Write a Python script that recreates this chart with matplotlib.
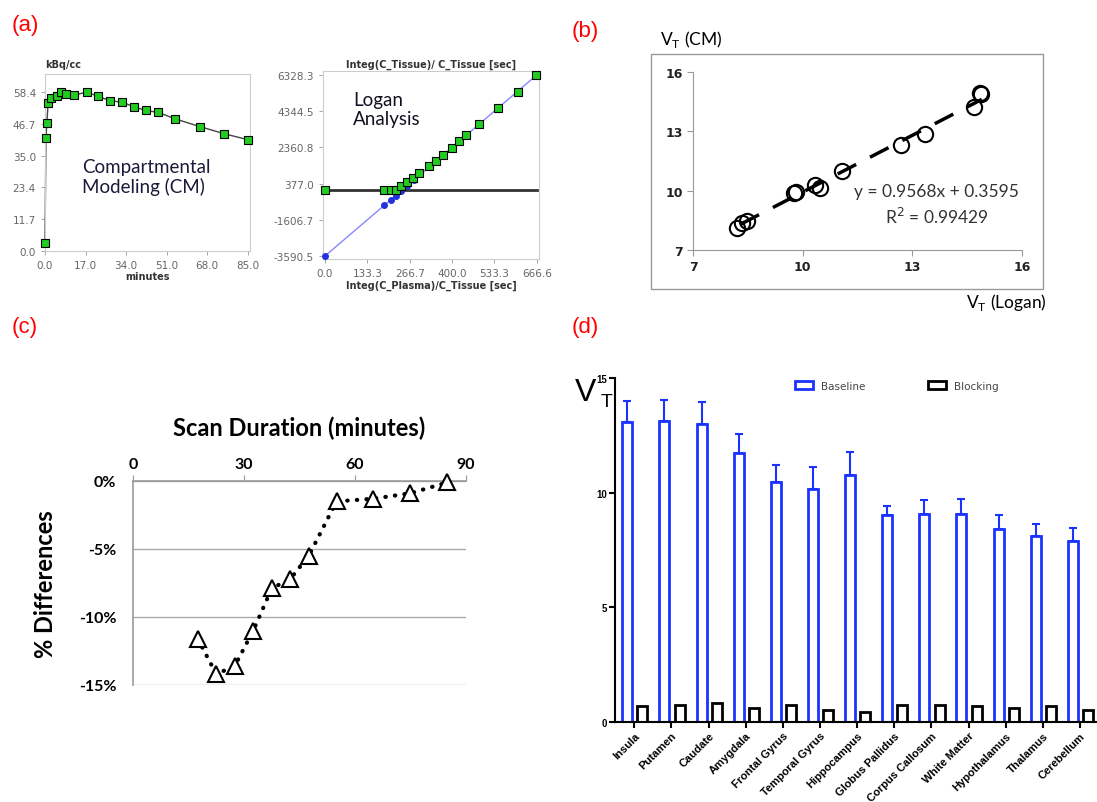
import numpy as np
import matplotlib.pyplot as plt
from matplotlib.patches import Rectangle, Patch

# (a) left : time-activity curve
tac_t = [0.0, 0.4, 0.8, 1.3, 2.5, 4.9, 6.7, 8.9, 12.2, 17.6, 22.1, 27.4, 32.5,
         37.2, 42.3, 47.5, 54.7, 64.9, 75.0, 85.0]
tac_c = [3.0, 41.6, 47.1, 54.3, 56.2, 56.8, 58.4, 57.5, 57.2, 58.4, 56.8, 55.2,
         54.6, 53.0, 51.6, 50.9, 48.5, 45.7, 43.1, 40.9]

# (a) right : Logan plot
logan_x = [0, 186, 207, 222, 238, 257, 277, 297, 327, 350, 373, 399, 423, 443,
           486, 545, 607, 665]
logan_y = [0, 0, 0, 45, 245, 465, 702, 958, 1323, 1615, 1963, 2328, 2712, 3022,
           3625, 4520, 5415, 6328]
logan_bx = [0, 187, 208, 223, 239, 257, 279]
logan_by = [-3590, -810, -500, -280, -40, 230, 560]
fit_x = [0.0, 666.6]
fit_y = [-3590.5, 6328.3]

# (b) VT CM vs VT Logan
vt_logan = [8.19, 8.34, 8.48, 9.77, 9.83, 10.35, 10.47, 11.08, 12.70, 13.34, 14.68, 14.88, 14.85]
vt_cm = [8.09, 8.36, 8.48, 9.88, 9.91, 10.28, 10.16, 11.00, 12.32, 12.85, 14.25, 14.87, 14.92]
slope, icpt = 0.9568, 0.3595

# (c) scan duration
dur = [17.5, 22.5, 27.5, 32.5, 37.5, 42.5, 47.5, 55, 65, 75, 85]
pdiff = [-11.6, -14.2, -13.6, -11.0, -7.9, -7.2, -5.5, -1.5, -1.3, -0.9, -0.1]

# (d) regional VT
regions = ["Insula", "Putamen", "Caudate", "Amygdala", "Frontal Gyrus", "Temporal Gyrus",
           "Hippocampus", "Globus Pallidus", "Corpus Callosum", "White Matter",
           "Hypothalamus", "Thalamus", "Cerebellum"]
baseline = [13.07, 13.13, 13.01, 11.74, 10.47, 10.15, 10.75, 9.04, 9.08, 9.05, 8.41, 8.11, 7.88]
base_sd = [0.92, 0.93, 0.95, 0.82, 0.73, 0.96, 1.03, 0.39, 0.60, 0.66, 0.61, 0.54, 0.60]
blocking = [0.68, 0.74, 0.81, 0.59, 0.76, 0.54, 0.44, 0.74, 0.74, 0.68, 0.63, 0.69, 0.51]

W, H = 1097, 803
fig = plt.figure(figsize=(W / 100, H / 100), dpi=100)

def box(l, t, r, b):
    return [l / W, 1 - b / H, (r - l) / W, (b - t) / H]

calib = ['Lato', 'DejaVu Sans']
arial = ['Liberation Sans', 'DejaVu Sans']
green = '#22cc22'
gray_t = '#666666'

# ---- (a) left
ax = fig.add_axes(box(45, 75, 250, 252))
ax.plot(tac_t, tac_c, color='#444444', lw=1, zorder=2, clip_on=False)
ax.plot(tac_t, tac_c, 's', ms=5.5, mfc=green, mec='black', mew=0.8, ls='none', zorder=3, clip_on=False)
ax.set_xlim(0, 86)
ax.set_ylim(0, 65)
ax.set_xticks([0, 17, 34, 51, 68, 85])
ax.set_yticks([0, 11.7, 23.4, 35.0, 46.7, 58.4])
ax.set_xticklabels(['0.0', '17.0', '34.0', '51.0', '68.0', '85.0'])
ax.set_yticklabels(['0.0', '11.7', '23.4', '35.0', '46.7', '58.4'])
ax.tick_params(labelsize=7.5, labelcolor=gray_t, color='#999999', length=3, width=0.6)
for s in ax.spines.values():
    s.set_color('#cccccc')
ax.text(0, 1.04, 'kBq/cc', transform=ax.transAxes, fontsize=7, fontweight='bold', color='#333333')
ax.set_xlabel('minutes', fontsize=7, fontweight='bold', color='#333333', labelpad=1)
ax.text(0.18, 0.42, 'Compartmental\nModeling (CM)', transform=ax.transAxes, fontsize=13.5,
        family=calib, color='#1a1a3a', linespacing=1.1, va='center')

# ---- (a) right
ax = fig.add_axes(box(323, 72, 539, 260))
ax.plot(fit_x, fit_y, color='#8888ff', lw=1, zorder=2)
ax.plot(fit_x, [0, 0], color='#333333', lw=2, zorder=2)
ax.plot(logan_bx, logan_by, 'o', ms=4, color='#2233dd', zorder=3, clip_on=False)
ax.plot(logan_x, logan_y, 's', ms=5.5, mfc=green, mec='black', mew=0.8, ls='none', zorder=4, clip_on=False)
ax.set_xlim(-6.3, 673.8)
ax.set_ylim(-3755, 6547)
ax.set_xticks([0, 133.3, 266.7, 400.0, 533.3, 666.6])
ax.set_xticklabels(['0.0', '133.3', '266.7', '400.0', '533.3', '666.6'])
ax.set_yticks([-3590.5, -1606.7, 377.0, 2360.8, 4344.5, 6328.3])
ax.set_yticklabels(['-3590.5', '-1606.7', '377.0', '2360.8', '4344.5', '6328.3'])
ax.tick_params(labelsize=7.5, labelcolor=gray_t, color='#999999', length=3, width=0.6)
for s in ax.spines.values():
    s.set_color('#cccccc')
ax.set_title('Integ(C_Tissue)/ C_Tissue [sec]', fontsize=7, fontweight='bold', color='#333333', pad=3)
ax.set_xlabel('Integ(C_Plasma)/C_Tissue [sec]', fontsize=7, fontweight='bold', color='#333333', labelpad=1)
ax.text(0.14, 0.80, 'Logan\nAnalysis', transform=ax.transAxes, fontsize=13.5,
        family=calib, color='#111122', linespacing=1.15, va='center')

# ---- (b)
fig.add_artist(Rectangle((651 / W, 1 - 290 / H), 392 / W, 235 / H, transform=fig.transFigure,
                         fill=False, edgecolor='#999999', lw=1))
ax = fig.add_axes(box(693, 73, 1022, 251))
xl = np.array([8.3, 14.9])
ax.plot(xl, slope * xl + icpt, color='black', lw=2.5, dashes=(6, 4.5), zorder=2)
ax.plot(vt_logan, vt_cm, 'o', ms=11, mfc='none', mec='black', mew=1.5, ls='none', zorder=3)
ax.set_xlim(7, 16)
ax.set_ylim(7, 16)
ax.set_xticks([7, 10, 13, 16])
ax.set_yticks([7, 10, 13, 16])
for s in ['top', 'right']:
    ax.spines[s].set_visible(False)
for s in ['left', 'bottom']:
    ax.spines[s].set_color('#999999')
ax.tick_params(labelsize=9, color='#999999', length=4, labelcolor='#222222')
for lb in ax.get_xticklabels() + ax.get_yticklabels():
    lb.set_fontweight('bold')
ax.text(0.74, 0.33, 'y = 0.9568x + 0.3595', transform=ax.transAxes, fontsize=12.5,
        family=calib, color='#333333', ha='center', va='center')
ax.text(0.74, 0.19, 'R$^{2}$ = 0.99429', transform=ax.transAxes, fontsize=12.5,
        family=calib, color='#333333', ha='center', va='center')
fig.text(691 / W, 1 - 40 / H, 'V$_\\mathregular{T}$ (CM)', fontsize=12.5, family=calib, ha='center', va='center')
fig.text(1006 / W, 1 - 303 / H, 'V$_\\mathregular{T}$ (Logan)', fontsize=12.5, family=calib, ha='center', va='center')

# ---- (c)
ax = fig.add_axes(box(133, 482, 466, 686))
ax.plot(dur, pdiff, color='black', lw=3, ls=(0, (0.1, 2.2)), dash_capstyle='round', zorder=2)
ax.plot(dur, pdiff, '^', ms=11.5, mfc='white', mec='black', mew=1.5, ls='none', zorder=3, clip_on=False)
ax.set_xlim(0, 90)
ax.set_ylim(-15, 0)
ax.xaxis.tick_top()
ax.set_xticks([0, 30, 60, 90])
ax.set_yticks([0, -5, -10, -15])
ax.set_yticklabels(['0%', '-5%', '-10%', '-15%'])
ax.yaxis.grid(True, color='#aaaaaa', lw=1)
ax.set_axisbelow(True)
for s in ['bottom', 'right']:
    ax.spines[s].set_visible(False)
for s in ['top', 'left']:
    ax.spines[s].set_color('#999999')
    ax.spines[s].set_linewidth(1.2)
ax.tick_params(axis='x', labelsize=11.5, length=4, color='#999999', pad=3)
ax.tick_params(axis='y', labelsize=11.5, length=0, pad=12)
for lb in ax.get_xticklabels() + ax.get_yticklabels():
    lb.set_fontweight('bold')
    lb.set_family(calib)
ax.set_title('Scan Duration (minutes)', fontsize=17, fontweight='bold', family=calib, pad=33)
ax.set_ylabel('% Differences', fontsize=17, fontweight='bold', family=calib, labelpad=16)

# ---- (d)
ax = fig.add_axes(box(615, 379, 1097, 723))
x = np.arange(len(regions))
blue = '#1a33ff'
bw = 0.27
ax.bar(x - 0.19, baseline, bw, facecolor='white', edgecolor=blue, lw=2, zorder=2)
ax.errorbar(x - 0.19, baseline, yerr=[np.zeros(len(regions)), base_sd], fmt='none',
            ecolor=blue, elinewidth=1.5, capsize=3, capthick=1.5, zorder=1)
ax.bar(x + 0.22, blocking, bw, facecolor='white', edgecolor='black', lw=2, zorder=2)
ax.set_xlim(-0.52, 12.46)
ax.set_ylim(0, 15)
ax.set_yticks([0, 5, 10, 15])
ax.set_xticks(x)
ax.set_xticklabels(regions, rotation=45, ha='right', rotation_mode='anchor')
for s in ['top', 'right']:
    ax.spines[s].set_visible(False)
for s in ['left', 'bottom']:
    ax.spines[s].set_linewidth(1.5)
ax.tick_params(axis='both', width=1.5, length=4, labelsize=7, pad=2)
ax.tick_params(axis='x', labelsize=8)
for lb in ax.get_xticklabels() + ax.get_yticklabels():
    lb.set_fontweight('bold')
    lb.set_family(arial)
ax.legend([Patch(facecolor='white', edgecolor=blue, lw=2), Patch(facecolor='white', edgecolor='black', lw=2)],
          ['Baseline', 'Blocking'], ncol=2, frameon=False, fontsize=7.5, columnspacing=6,
          handlelength=1.7, handleheight=0.8, loc='center', bbox_to_anchor=(0.585, 0.977),
          labelcolor='#444444')
fig.text(586 / W, 1 - 393 / H, 'V', fontsize=23, family=arial, ha='center', va='center')
fig.text(607 / W, 1 - 403 / H, 'T', fontsize=14, family=arial, ha='center', va='center')

# panel letters
for lab, px, py in [('(a)', 25, 25), ('(b)', 585, 32), ('(c)', 25, 327), ('(d)', 585, 328)]:
    fig.text(px / W, 1 - py / H, lab, fontsize=16, color='red', ha='center', va='center', family=arial)

fig.savefig('out.png', dpi=100)
